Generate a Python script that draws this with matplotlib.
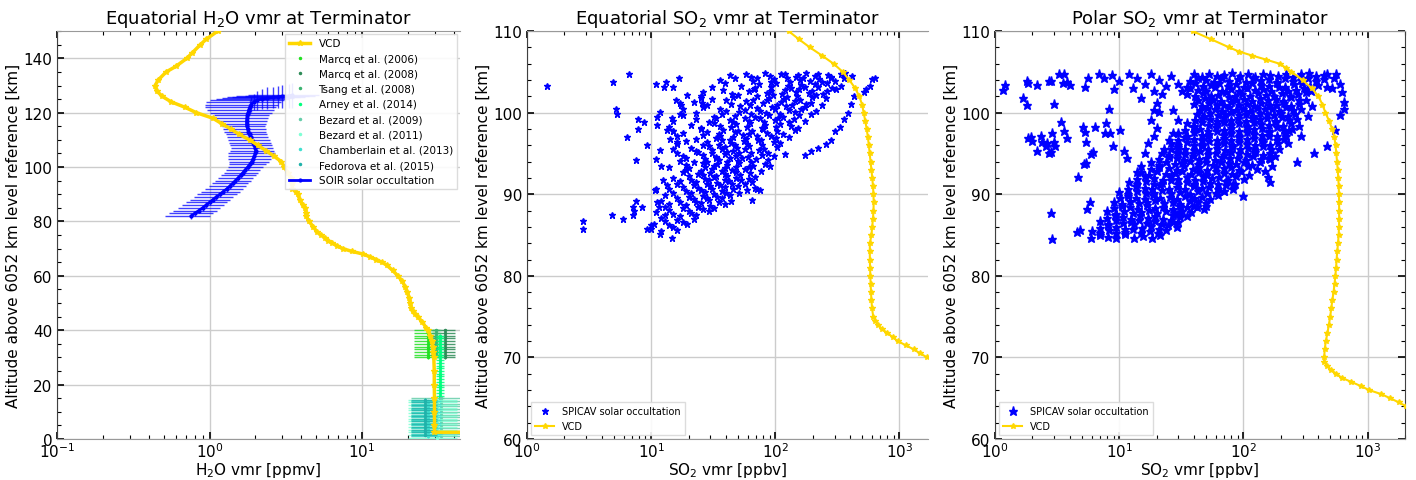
import numpy as np
import matplotlib
matplotlib.use("Agg")
import matplotlib.pyplot as plt
from matplotlib.ticker import MultipleLocator

# ---------------- H2O, equatorial terminator ----------------
h2o_vcd_alt = [2.5, 2.5, 5, 10, 15, 20, 25, 30, 32, 34, 36, 38, 40,
               41, 43, 45, 46, 47, 48, 50, 52, 54, 56, 58, 60,
               62, 64, 65, 66, 67, 68, 69, 70, 71, 72, 73, 74, 75, 76,
               78, 80, 82, 83, 85, 86, 88, 90, 91, 92, 94, 96, 98, 100,
               102, 104, 106, 108, 110, 112, 114, 116, 118, 120,
               122, 124, 126, 128, 130, 132, 135, 137, 140, 142, 145, 147, 150]
h2o_vcd_vmr = [80, 29.9, 29.9, 29.9, 29.9, 29.8, 29.8, 29.6, 29.4, 29.1, 28.6, 28.0, 27.0,
               26.3, 24.9, 23.2, 22.3, 21.5, 21.1, 20.7, 20.4, 19.8, 19.2, 18.4, 17.2,
               15.9, 14.5, 13.5, 12.4, 11.3, 10.2, 8.6, 7.5, 6.9, 6.4, 6.0, 5.7, 5.4, 5.1,
               4.8, 4.5, 4.3, 4.3, 4.25, 4.1, 3.9, 3.8, 3.7, 3.5, 3.48, 3.4, 3.25, 3.1,
               2.96, 2.65, 2.35, 2.08, 1.83, 1.57, 1.38, 1.2, 1.05, 0.82,
               0.69, 0.56, 0.49, 0.45, 0.44, 0.46, 0.52, 0.6, 0.71, 0.77, 0.87, 0.95, 1.13]

soir_alt = [82, 83, 84, 85, 86, 87, 88, 89, 90, 91,
            92, 93, 94, 95, 96, 97, 98, 99, 100, 101,
            102, 103, 104, 105, 106, 107, 108, 109, 110, 111,
            112, 113, 114, 115, 116, 117, 118, 119, 120, 121,
            122, 123, 124,
            124.6, 125.0, 125.3, 125.6, 125.8, 126.0, 126.2, 126.4]
soir_vmr = [0.76, 0.80, 0.85, 0.90, 0.95, 1.00, 1.05, 1.11, 1.17, 1.23,
            1.30, 1.36, 1.42, 1.48, 1.54, 1.60, 1.66, 1.72, 1.78, 1.84,
            1.89, 1.93, 1.97, 2.00, 2.01, 2.00, 1.97, 1.94, 1.90, 1.86,
            1.83, 1.80, 1.78, 1.76, 1.75, 1.75, 1.76, 1.77, 1.79, 1.81,
            1.84, 1.88, 1.95,
            2.05, 2.2, 2.4, 2.6, 2.8, 3.0, 3.3, 3.5]
soir_xerr = [0.25, 0.26, 0.27, 0.28, 0.29, 0.30, 0.31, 0.32, 0.34, 0.35,
             0.36, 0.37, 0.38, 0.39, 0.40, 0.41, 0.42, 0.43, 0.45, 0.50,
             0.55, 0.60, 0.65, 0.68, 0.65, 0.62, 0.60, 0.60, 0.58, 0.56,
             0.55, 0.55, 0.55, 0.56, 0.58, 0.62, 0.66, 0.70, 0.78, 0.85,
             0.90, 0.95, 1.0,
             1.05, 1.1, 1.2, 1.3, 1.4, 1.5, 1.6, 1.7]
soir_yerr = [1.0, 1.0, 1.0, 1.0, 1.0, 1.0, 1.0, 1.0, 1.0, 1.0,
             1.0, 1.0, 1.0, 1.0, 1.0, 1.0, 1.0, 1.0, 1.0, 1.0,
             1.0, 1.0, 1.0, 1.0, 1.2, 1.2, 1.2, 1.2, 1.4, 1.4,
             1.4, 1.4, 1.5, 1.5, 1.5, 1.6, 1.6, 1.8, 2.0, 2.2,
             2.5, 2.8, 3.0,
             3.5, 3.8, 4.0, 4.0, 4.2, 4.2, 4.5, 4.5]

# lower-atmosphere literature values: one vmr (+/- err) over an altitude span
lit_labels = ["Marcq et al. (2006)", "Marcq et al. (2008)", "Tsang et al. (2008)",
              "Arney et al. (2014)", "Bezard et al. (2009)", "Bezard et al. (2011)",
              "Chamberlain et al. (2013)", "Fedorova et al. (2015)"]
lit_vmr = [27, 35, 30.5, 32.5, 33, 31, 27, 26]
lit_err = [5, 6, 2.5, 2, 12, 11, 6, 5]
lit_alt_lo = [30, 30, 31, 15, 1, 0.5, 1, 1.5]
lit_alt_hi = [40, 40, 40, 38, 15, 14.5, 14, 15]
LIT_COLORS = ["#22e022", "#2e8b57", "#3cb371", "#00ff7f",
              "#66cdaa", "#7fffd4", "#40e0d0", "#20b2aa"]

# ---------------- SO2, equatorial terminator ----------------
so2_eq_vcd_alt = [69.5, 70, 70.5, 71, 71.5, 72, 72.5, 73, 73.5, 74, 74.5, 75,
                  76, 77, 78, 79, 80, 81, 82, 83, 84, 85,
                  86, 87, 88, 89, 90, 91, 92, 93, 94, 95,
                  96, 97, 98, 99, 100, 101, 102, 103, 104, 105,
                  106, 107, 108, 109, 110]
so2_eq_vcd_vmr = [1900, 1670, 1470, 1300, 1120, 970, 880, 800, 720, 670, 640, 615,
                  602, 595, 590, 586, 583, 580, 578, 577, 578, 595,
                  603, 612, 618, 620, 618, 612, 604, 595, 585, 576,
                  567, 557, 545, 530, 515, 500, 475, 440, 395, 350,
                  295, 238, 190, 155, 128]

so2_eq_vmr = [
    43, 58, 64, 83, 91, 112, 119, 146, 152, 177, 208, 221, 268, 281, 338, 362, 415,
    36, 47, 66, 71, 92, 97, 124, 131, 158, 166, 189, 226, 238, 283, 302, 355,
    31, 39, 53, 69, 74, 93, 101, 126, 133, 161, 172, 207, 219, 262, 284, 336,
    26, 38, 45, 61, 67, 86, 92, 113, 119, 146, 154, 187, 199, 241, 262, 311,
    25, 31, 46, 50, 66, 71, 89, 95, 117, 124, 150, 159, 196, 213, 256,
    22, 28, 40, 44, 58, 63, 80, 85, 104, 111, 137, 145, 178, 194, 236,
    18, 26, 36, 40, 52, 57, 71, 75, 94, 99, 123, 130, 160, 174, 214,
    18, 23, 32, 37, 47, 51, 64, 68, 84, 89, 110, 116, 143, 155, 195,
    15, 23, 29, 33, 43, 46, 57, 61, 75, 81, 99, 105, 129, 141, 174,
    14, 21, 25, 32, 36, 44, 48, 59, 63, 78, 83, 101, 110, 134, 151,
    15, 18, 25, 28, 35, 38, 47, 50, 61, 65, 80, 86, 104, 115, 143,
    16, 23, 26, 33, 36, 43, 46, 55, 58, 71, 76, 93, 102, 128,
    16, 19, 26, 28, 35, 37, 44, 47, 56, 59, 72, 78, 98, 109,
    15, 21, 23, 29, 31, 37, 39, 46, 49, 57, 61, 74, 81, 103,
    16, 18, 24, 26, 31, 33, 39, 41, 48, 51, 60, 64, 78, 88,
    17, 19, 22, 27, 28, 33, 35, 41, 43, 50, 54, 64, 70, 87,
    14, 19, 20, 26, 27, 32, 34, 39, 41, 48, 51, 61, 66, 82,
    18, 19, 24, 25, 30, 31, 37, 39, 45, 48, 57, 62, 77,
    15, 20, 21, 26, 27, 32, 33, 39, 41, 48, 52, 61, 68,
    16, 17, 22, 23, 28, 29, 34, 36, 42, 45, 53, 57, 65,
    14, 18, 19, 24, 25, 30, 31, 37, 39, 46, 50, 59, 69,
    13, 15, 20, 21, 26, 27, 32, 34, 40, 43, 51,
    12, 16, 17, 22, 23, 28, 29, 35, 37, 44,
    13, 14, 18, 19, 24, 25, 30, 32, 39,
    11, 14, 15, 20, 21, 26, 29,
    12, 13, 16, 17, 22, 23,
    10.5, 13, 14, 18, 19.5,
    10, 12, 15, 16,
    # sparse points away from the main cloud
    1.46, 2.8, 2.8, 4.9, 5.2, 5.3, 6.65, 4.85, 5.9, 6.4, 7.8, 8.7, 7.8, 7.5, 9.2,
    7.1, 7.6, 8.5, 7.3, 7.1, 9.2, 9.9, 11.8, 14.7,
    11, 13.1, 12.6, 15.1, 16.7, 11.8, 11.2, 11.2, 14.6, 17, 17, 19.4, 17.5, 15.8, 25, 25.5,
    11, 11.8, 12, 12.4, 10.9, 10.7, 13.3, 11.1, 11.5, 14.2, 13.3, 15.1, 16,
    172, 195, 221, 255, 280, 301, 330, 356, 385, 405, 430, 515, 540, 575, 602, 630,
    71, 65, 75, 91, 98, 120,
]
so2_eq_alt = [
    104.6, 104.8, 104.4, 104.9, 104.5, 104.7, 104.8, 104.4, 104.6, 104.9, 104.5, 104.8, 104.6, 104.4, 104.7, 104.9, 104.5,
    104.0, 104.3, 103.9, 104.2, 103.8, 104.1, 104.3, 103.8, 104.0, 104.2, 103.9, 104.1, 103.8, 104.3, 103.9, 104.2,
    103.2, 103.6, 103.3, 103.0, 103.5, 103.1, 103.6, 103.3, 103.0, 103.4, 103.1, 103.5, 103.2, 103.6, 103.0, 103.3,
    102.5, 102.8, 102.3, 102.6, 102.9, 102.4, 102.7, 102.3, 102.8, 102.5, 102.9, 102.4, 102.6, 102.3, 102.7, 102.9,
    102.0, 101.7, 101.9, 102.2, 101.6, 102.0, 101.8, 102.2, 101.7, 101.9, 102.1, 101.6, 101.9, 102.2, 101.8,
    101.3, 101.0, 101.5, 101.1, 101.4, 100.9, 101.2, 101.5, 101.0, 101.3, 100.9, 101.4, 101.1, 101.2, 101.0,
    100.4, 100.7, 100.5, 100.2, 100.8, 100.3, 100.6, 100.2, 100.7, 100.4, 100.8, 100.3, 100.5, 100.7, 100.2,
    99.7, 100.0, 99.5, 99.9, 99.6, 100.1, 99.8, 99.5, 100.0, 99.7, 99.9, 99.5, 100.1, 99.7, 99.9,
    99.0, 99.2, 98.8, 99.4, 99.1, 98.9, 99.3, 99.0, 99.4, 98.8, 99.1, 99.3, 98.9, 99.2, 99.0,
    98.3, 98.5, 98.1, 98.7, 98.4, 98.2, 98.6, 98.3, 98.7, 98.1, 98.5, 98.2, 98.6, 98.4, 98.1,
    97.8, 97.5, 98.0, 97.6, 97.4, 97.9, 97.6, 97.8, 97.4, 97.7, 98.0, 97.5, 97.7, 97.4, 97.9,
    97.1, 96.8, 97.3, 96.9, 97.2, 96.7, 97.0, 97.3, 96.8, 97.1, 96.7, 97.2, 96.9, 97.0,
    96.2, 96.5, 96.0, 96.4, 96.1, 96.6, 96.3, 96.0, 96.5, 96.2, 96.6, 96.1, 96.4, 96.3,
    95.5, 95.7, 95.3, 95.9, 95.4, 95.6, 95.8, 95.3, 95.7, 95.5, 95.9, 95.4, 95.6, 95.8,
    95.0, 94.7, 95.2, 94.8, 95.1, 94.6, 94.9, 95.2, 94.7, 95.0, 94.6, 95.1, 94.8, 95.0,
    94.1, 94.4, 93.9, 94.3, 94.0, 94.5, 94.2, 93.9, 94.4, 94.1, 94.5, 94.0, 94.3, 94.2,
    93.4, 93.6, 93.2, 93.8, 93.3, 93.5, 93.7, 93.2, 93.6, 93.4, 93.8, 93.3, 93.5, 93.7,
    92.7, 93.0, 92.5, 92.9, 92.6, 93.1, 92.8, 92.5, 93.0, 92.7, 93.1, 92.6, 92.9,
    92.0, 92.2, 91.8, 92.4, 91.9, 92.1, 92.3, 91.8, 92.2, 92.0, 92.4, 91.9, 92.1,
    91.3, 91.6, 91.1, 91.5, 91.2, 91.7, 91.4, 91.1, 91.6, 91.3, 91.7, 91.2, 91.5,
    90.6, 90.9, 90.4, 90.8, 90.5, 91.0, 90.7, 90.4, 90.9, 90.6, 91.0, 90.5, 90.8,
    89.9, 90.2, 89.7, 90.1, 89.8, 90.3, 90.0, 89.7, 90.2, 89.9, 90.1,
    89.2, 89.5, 89.0, 89.4, 89.1, 89.6, 89.3, 89.0, 89.5, 89.2,
    88.5, 88.8, 88.3, 88.7, 88.4, 88.9, 88.6, 88.3, 88.8,
    87.8, 88.1, 87.6, 88.0, 87.7, 88.2, 87.9,
    87.1, 87.4, 86.9, 87.3, 87.0, 87.5,
    86.4, 86.7, 86.2, 86.6, 86.3,
    85.7, 85.5, 86.0, 85.6,
    103.3, 86.7, 85.8, 103.8, 100.5, 99.8, 104.8, 87.5, 87.0, 97.0, 99.2, 98.8, 98.0, 94.2, 96.1,
    88.5, 89.2, 88.5, 88.0, 87.5, 85.8, 86.2, 85.1, 84.7,
    103.5, 103.8, 103.2, 103.2, 104.2, 100.1, 99.5, 98.5, 99.4, 99.9, 101.2, 102.2, 100.9, 101.6, 101.8, 101.2,
    94.3, 95.4, 93.5, 91.7, 90.7, 90.5, 91.1, 89.1, 88.4, 96.8, 97.9, 97.7, 96.4,
    94.8, 95.3, 95.7, 96.2, 96.6, 97.8, 98.3, 99.2, 100.0, 101.1, 102.1, 102.5, 102.9, 103.3, 104.1, 104.2,
    90.6, 89.3, 90.5, 93.5, 94.7, 94.9,
]

# ---------------- SO2, polar terminator ----------------
so2_pol_vcd_alt = [63.5, 64, 64.5, 65, 65.5, 66, 66.5, 67, 67.5, 68, 68.5, 69, 69.5, 70,
                   71, 72, 73, 74, 75, 76, 77, 78, 79, 80,
                   81, 82, 83, 84, 85, 86, 87, 88, 89, 90,
                   91, 92, 93, 94, 95, 96, 97, 98, 99, 100,
                   101, 102, 103, 104, 105,
                   105.5, 106, 106.5, 107, 107.5, 108, 109, 110]
so2_pol_vcd_vmr = [2400, 2050, 1780, 1520, 1290, 1030, 880, 740, 620, 560, 505, 470, 449, 447,
                   452, 461, 475, 488, 500, 510, 520, 532, 542, 550,
                   558, 563, 570, 578, 585, 589, 590, 590, 590, 588,
                   586, 581, 575, 568, 560, 552, 540, 518, 490, 458,
                   433, 402, 355, 300, 244,
                   220, 196, 153, 118, 92, 77, 55, 39]

so2_pol_vmr = [
    40, 46, 53, 61, 70, 81, 94, 108, 124, 143, 165, 190, 219, 253, 291, 336, 387, 446,
    37, 43, 50, 58, 67, 77, 90, 104, 120, 139, 160, 186, 215, 249, 289, 334, 386, 447,
    30, 35, 41, 47, 55, 64, 75, 87, 101, 118, 138, 160, 187, 218, 254, 296, 345, 400,
    32, 37, 43, 50, 59, 67, 79, 92, 107, 124, 144, 168, 195, 227, 263, 306, 353,
    35, 41, 47, 55, 63, 73, 85, 98, 114, 132, 153, 178, 206, 239, 277, 320,
    43, 49, 57, 66, 76, 88, 102, 118, 136, 157, 182, 210, 242, 279, 321,
    40, 46, 53, 61, 70, 80, 92, 106, 121, 139, 160, 184, 212, 243, 280,
    45, 51, 59, 67, 76, 87, 100, 113, 129, 148, 169, 193, 220, 251, 289,
    42, 48, 54, 62, 71, 80, 92, 104, 119, 135, 154, 176, 200, 228, 260,
    41, 46, 54, 61, 70, 79, 91, 104, 119, 136, 156, 179, 204, 233, 268,
    35, 40, 46, 53, 61, 70, 80, 92, 106, 121, 139, 160, 183, 210, 240,
    34, 40, 45, 52, 60, 70, 79, 92, 106, 122, 140, 161, 185, 213, 246,
    30, 35, 40, 46, 53, 61, 70, 80, 92, 106, 122, 141, 162, 187, 215,
    30, 34, 40, 46, 52, 61, 70, 80, 92, 106, 122, 140, 162, 186, 214,
    26, 30, 35, 40, 46, 53, 61, 70, 81, 93, 107, 124, 143, 165, 190,
    26, 30, 34, 40, 46, 52, 61, 71, 81, 94, 108, 125, 144, 167, 193,
    22, 25, 29, 34, 39, 45, 52, 60, 70, 80, 93, 107, 124, 143, 165,
    21, 25, 29, 33, 39, 44, 50, 59, 67, 78, 90, 104, 120, 139, 161,
    18, 21, 24, 28, 32, 37, 43, 50, 57, 66, 76, 88, 101, 117, 135,
    18, 21, 25, 29, 33, 39, 44, 51, 60, 70, 80, 93, 109, 128,
    15, 17.5, 20, 24, 28, 32, 38, 44, 51, 60, 70, 81, 95, 110,
    14, 16, 19, 22.5, 26, 30, 35, 41, 47, 56, 64, 75, 88, 102,
    12, 14, 16.3, 19, 22, 26, 30, 35, 40, 47, 54, 63, 73, 85,
    11.8, 13.7, 16, 18.5, 21.4, 25, 29, 34, 40, 46, 53, 62, 72, 83,
    10, 11.8, 13.8, 16.3, 19, 22, 26, 31, 37, 43, 51, 60, 70,
    10.2, 11.8, 13.7, 16, 18.6, 21.4, 25.7, 29, 34, 40, 46, 53.5, 62,
    9, 10.5, 12.3, 14.4, 16.8, 19.6, 23, 27, 31, 37, 43, 50,
    9.1, 10.6, 12.3, 14.3, 16.7, 19.5, 22.5, 27, 31, 35, 42, 48,
    8, 9.4, 10.9, 12.8, 15, 17.5, 20, 24, 28, 32, 38,
    8, 9.3, 10.8, 12.5, 14.6, 16.9, 19.6, 22.5, 27, 31, 35,
    7, 8.1, 9.4, 10.8, 12.5, 14.5, 16.8, 19.4, 22, 26, 30,
    7, 8.1, 9.5, 11.1, 13.1, 15.3, 18, 21, 24.6, 29,
    6, 7, 8.2, 9.5, 11.1, 13, 15.1, 17.6, 20.6, 24,
    5.9, 7, 8.1, 9.5, 11.2, 13.2, 15.5, 18.2, 21.4,
    # sparse points away from the main band
    1.15, 1.2, 1.67, 1.8, 1.8, 1.85, 2.16, 1.85, 1.95, 2.0, 2.16, 2.35, 2.4, 2.55, 2.7,
    2.6, 2.8, 2.9, 3.0, 3.05, 3.0, 2.7, 2.8, 3.4, 3.5, 3.3, 3.6, 3.8, 4.0, 3.6,
    3.8, 5.1, 5.3, 5.4, 5.2, 4.7, 5.4, 5.9, 6.1, 5.3, 5.6, 6.4, 6.9, 7.5, 7.7,
    7.8, 8.2, 8.5, 8.9, 8.8, 9.0, 9.9, 10.2, 10.9, 11.6, 2.8, 5.5, 5.8, 4.6, 4.8, 2.9,
    12, 14, 16, 18, 21, 24, 13, 19, 26, 15, 22,
    16, 17, 19, 20, 18, 19, 20, 21, 27, 30, 27, 25, 30, 23, 15, 14,
    597, 620, 640, 640, 600, 550, 540, 560, 470, 470, 520, 470, 370, 268, 290, 330, 355,
    163, 170, 180, 158, 165, 230, 220, 235, 280, 150, 100, 83, 70, 50, 40, 31, 27,
]
so2_pol_alt = [
    104.7, 104.4, 104.8, 104.5, 104.6, 104.9, 104.5, 104.7, 104.4, 104.8, 104.6, 104.5, 104.8, 104.4, 104.7, 104.9, 104.5, 104.6,
    103.9, 104.2, 104.0, 103.8, 104.3, 103.9, 104.1, 103.8, 104.2, 104.0, 104.1, 103.8, 104.3, 103.9, 104.0, 104.2, 103.9, 104.1,
    103.5, 103.2, 103.6, 103.3, 103.4, 103.7, 103.3, 103.5, 103.2, 103.6, 103.4, 103.3, 103.6, 103.2, 103.5, 103.7, 103.3, 103.4,
    102.7, 103.0, 102.8, 102.6, 103.1, 102.7, 102.9, 102.6, 103.0, 102.8, 102.9, 102.6, 103.1, 102.7, 102.8, 103.0, 102.7,
    102.3, 102.0, 102.4, 102.1, 102.2, 102.5, 102.1, 102.3, 102.0, 102.4, 102.2, 102.1, 102.4, 102.0, 102.3, 102.5,
    101.5, 101.8, 101.6, 101.4, 101.9, 101.5, 101.7, 101.4, 101.8, 101.6, 101.7, 101.4, 101.9, 101.5, 101.6,
    101.1, 100.8, 101.2, 100.9, 101.0, 101.3, 100.9, 101.1, 100.8, 101.2, 101.0, 100.9, 101.2, 100.8, 101.1,
    100.3, 100.6, 100.4, 100.2, 100.7, 100.3, 100.5, 100.2, 100.6, 100.4, 100.5, 100.2, 100.7, 100.3, 100.4,
    99.9, 99.6, 100.0, 99.7, 99.8, 100.1, 99.7, 99.9, 99.6, 100.0, 99.8, 99.7, 100.0, 99.6, 99.9,
    99.1, 99.4, 99.2, 99.0, 99.5, 99.1, 99.3, 99.0, 99.4, 99.2, 99.3, 99.0, 99.5, 99.1, 99.2,
    98.7, 98.4, 98.8, 98.5, 98.6, 98.9, 98.5, 98.7, 98.4, 98.8, 98.6, 98.5, 98.8, 98.4, 98.7,
    97.9, 98.2, 98.0, 97.8, 98.3, 97.9, 98.1, 97.8, 98.2, 98.0, 98.1, 97.8, 98.3, 97.9, 98.0,
    97.5, 97.2, 97.6, 97.3, 97.4, 97.7, 97.3, 97.5, 97.2, 97.6, 97.4, 97.3, 97.6, 97.2, 97.5,
    96.7, 97.0, 96.8, 96.6, 97.1, 96.7, 96.9, 96.6, 97.0, 96.8, 96.9, 96.6, 97.1, 96.7, 96.8,
    96.3, 96.0, 96.4, 96.1, 96.2, 96.5, 96.1, 96.3, 96.0, 96.4, 96.2, 96.1, 96.4, 96.0, 96.3,
    95.5, 95.8, 95.6, 95.4, 95.9, 95.5, 95.7, 95.4, 95.8, 95.6, 95.7, 95.4, 95.9, 95.5, 95.6,
    95.1, 94.8, 95.2, 94.9, 95.0, 95.3, 94.9, 95.1, 94.8, 95.2, 95.0, 94.9, 95.2, 94.8, 95.1,
    94.3, 94.6, 94.4, 94.2, 94.7, 94.3, 94.5, 94.2, 94.6, 94.4, 94.5, 94.2, 94.7, 94.3, 94.4,
    93.9, 93.6, 94.0, 93.7, 93.8, 94.1, 93.7, 93.9, 93.6, 94.0, 93.8, 93.7, 94.0, 93.6, 93.9,
    93.1, 93.4, 93.2, 93.0, 93.5, 93.1, 93.3, 93.0, 93.4, 93.2, 93.3, 93.0, 93.5, 93.1,
    92.7, 92.4, 92.8, 92.5, 92.6, 92.9, 92.5, 92.7, 92.4, 92.8, 92.6, 92.5, 92.8, 92.4,
    91.9, 92.2, 92.0, 91.8, 92.3, 91.9, 92.1, 91.8, 92.2, 92.0, 92.1, 91.8, 92.3, 91.9,
    91.5, 91.2, 91.6, 91.3, 91.4, 91.7, 91.3, 91.5, 91.2, 91.6, 91.4, 91.3, 91.6, 91.2,
    90.7, 91.0, 90.8, 90.6, 91.1, 90.7, 90.9, 90.6, 91.0, 90.8, 90.9, 90.6, 91.1, 90.7,
    90.3, 90.0, 90.4, 90.1, 90.2, 90.5, 90.1, 90.3, 90.0, 90.4, 90.2, 90.1, 90.4,
    89.5, 89.8, 89.6, 89.4, 89.9, 89.5, 89.7, 89.4, 89.8, 89.6, 89.7, 89.4, 89.9,
    89.1, 88.8, 89.2, 88.9, 89.0, 89.3, 88.9, 89.1, 88.8, 89.2, 89.0, 88.9,
    88.3, 88.6, 88.4, 88.2, 88.7, 88.3, 88.5, 88.2, 88.6, 88.4, 88.5, 88.2,
    87.9, 87.6, 88.0, 87.7, 87.8, 88.1, 87.7, 87.9, 87.6, 88.0, 87.8,
    87.1, 87.4, 87.2, 87.0, 87.5, 87.1, 87.3, 87.0, 87.4, 87.2, 87.3,
    86.7, 86.4, 86.8, 86.5, 86.6, 86.9, 86.5, 86.7, 86.4, 86.8, 86.6,
    85.9, 86.2, 86.0, 85.8, 86.3, 85.9, 86.1, 85.8, 86.2, 86.0,
    85.5, 85.2, 85.6, 85.3, 85.4, 85.7, 85.3, 85.5, 85.2, 85.6,
    84.7, 85.0, 84.8, 84.6, 85.1, 84.7, 84.9, 84.6, 85.0,
    102.8, 103.4, 101.8, 101.0, 103.9, 103.6, 103.4, 96.9, 97.0, 96.5, 95.3, 97.2, 96.4, 95.9, 95.0,
    96.3, 95.2, 97.5, 96.4, 95.9, 101.1, 103.9, 103.9, 98.8, 103.6, 104.8, 104.8, 103.8, 103.4, 97.7,
    96.9, 98.3, 97.6, 96.4, 93.7, 92.1, 93.8, 94.9, 95.2, 103.1, 104.3, 98.2, 104.8, 104.3, 97.5,
    98.7, 100.5, 97.5, 95.9, 104.6, 102.9, 103.9, 97.9, 95.3, 94.4, 87.7, 88.2, 89.0, 85.4, 85.6, 84.5,
    104.7, 104.2, 103.5, 104.8, 104.0, 103.3, 103.0, 102.6, 104.5, 101.8, 102.3,
    95.1, 96.3, 97.1, 98.1, 99.1, 100.3, 101.2, 100.1, 100.3, 99.1, 97.5, 96.7, 95.1, 95.5, 93.5, 92.7,
    103.5, 102.5, 101.3, 100.5, 99.7, 97.9, 104.2, 104.7, 104.8, 103.1, 103.0, 95.9, 95.0, 94.0, 97.1, 99.6, 100.8,
    94.3, 93.5, 94.7, 92.1, 91.5, 96.3, 97.1, 97.8, 98.4, 92.9, 89.8, 91.2, 90.4, 88.6, 88.6, 87.8, 86.6,
]

VCD_COLOR = "gold"
OBS_COLOR = "blue"
YLABEL = "Altitude above 6052 km level reference [km]"


def style_axes(ax, right_ticks=False):
    ax.grid(which="major", color="#cccccc", linewidth=1.0, zorder=0)
    ax.tick_params(which="both", direction="in", top=True, right=right_ticks,
                   labelsize=11, color="black")
    ax.tick_params(which="major", length=5, width=1.2)
    ax.tick_params(which="minor", length=3, width=0.8)
    ax.tick_params(axis="x", which="both", pad=1.5)
    ax.spines["left"].set_color("0.25")
    ax.spines["bottom"].set_color("0.6")
    ax.spines["top"].set_color("0.6")
    if right_ticks:
        ax.spines["right"].set_color("0.25")
    else:
        ax.spines["right"].set_visible(False)
    ax.set_ylabel(YLABEL, fontsize=11, labelpad=2)


def plot_h2o(ax):
    ax.plot(h2o_vcd_vmr, h2o_vcd_alt, color=VCD_COLOR, lw=2.5, marker="*", ms=4,
            label="VCD", zorder=5)
    for lbl, c, v, e, lo, hi in zip(lit_labels, LIT_COLORS, lit_vmr, lit_err,
                                    lit_alt_lo, lit_alt_hi):
        alts = np.arange(lo, hi + 0.01, 1.0)
        vals = np.full(alts.shape, v)
        ax.errorbar(vals, alts, xerr=e, yerr=0.5, fmt="none", ecolor=c,
                    elinewidth=1, alpha=0.85, zorder=3)
        ax.plot(vals, alts, ".", color=c, ms=3, label=lbl, zorder=3)
    ax.errorbar(soir_vmr, soir_alt, xerr=soir_xerr, yerr=soir_yerr, fmt="none",
                ecolor=OBS_COLOR, elinewidth=1, alpha=0.75, zorder=4)
    ax.plot(soir_vmr, soir_alt, ".-", color=OBS_COLOR, lw=2, ms=4,
            label="SOIR solar occultation", zorder=4)

    ax.set_xscale("log")
    ax.set_xlim(0.1, 44)
    ax.set_ylim(0, 150)
    ax.yaxis.set_major_locator(MultipleLocator(20))
    ax.yaxis.set_minor_locator(MultipleLocator(5))
    ax.set_xlabel("H$_2$O vmr [ppmv]", fontsize=11, labelpad=0)
    ax.set_title("Equatorial H$_2$O vmr at Terminator", fontsize=13)
    ax.legend(loc="upper right", fontsize=7.5, numpoints=1, framealpha=0.9,
              borderaxespad=0.3, edgecolor="0.85", fancybox=False)


def plot_so2(ax, vmr, alt, vcd_vmr, vcd_alt, xmax, title, ms):
    ax.plot(vmr, alt, "*", color=OBS_COLOR, ms=ms, ls="none",
            label="SPICAV solar occultation", zorder=3)
    ax.plot(vcd_vmr, vcd_alt, color=VCD_COLOR, lw=1.5, marker="*", ms=4,
            label="VCD", zorder=4)
    ax.set_xscale("log")
    ax.set_xlim(1, xmax)
    ax.set_ylim(60, 110)
    ax.yaxis.set_major_locator(MultipleLocator(10))
    ax.yaxis.set_minor_locator(MultipleLocator(2))
    ax.set_xlabel("SO$_2$ vmr [ppbv]", fontsize=11, labelpad=0)
    ax.set_title(title, fontsize=13)
    ax.legend(loc="lower left", fontsize=7, numpoints=1, framealpha=0.9,
              borderaxespad=0.4, edgecolor="0.85", fancybox=False)


fig = plt.figure(figsize=(14.16, 4.81), dpi=100)
ax1 = fig.add_axes([0.0403, 0.0852, 0.2846, 0.848])
ax2 = fig.add_axes([0.3722, 0.0852, 0.2832, 0.848])
ax3 = fig.add_axes([0.7027, 0.0852, 0.2895, 0.848])

plot_h2o(ax1)
plot_so2(ax2, so2_eq_vmr, so2_eq_alt, so2_eq_vcd_vmr, so2_eq_vcd_alt, 1700,
         "Equatorial SO$_2$ vmr at Terminator", 4.5)
plot_so2(ax3, so2_pol_vmr, so2_pol_alt, so2_pol_vcd_vmr, so2_pol_vcd_alt, 2000,
         "Polar SO$_2$ vmr at Terminator", 6.5)

style_axes(ax1)
style_axes(ax2)
style_axes(ax3, right_ticks=True)

fig.savefig("out.png", dpi=100)
